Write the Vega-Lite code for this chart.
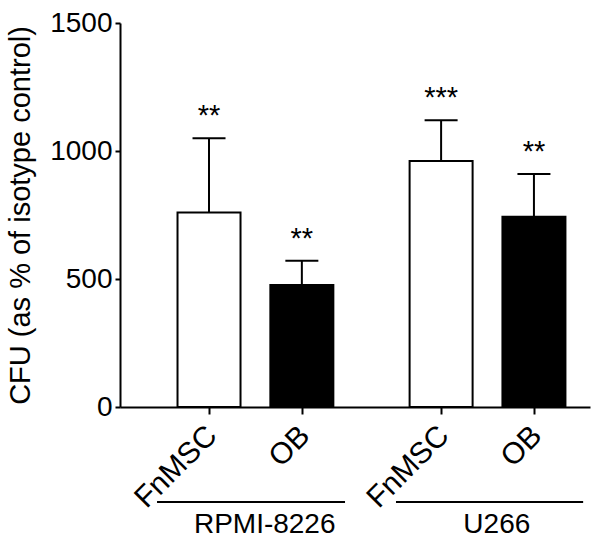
{
  "$schema": "https://vega.github.io/schema/vega-lite/v6.json",
  "width": 470,
  "height": 384,
  "autosize": "none",
  "padding": {"left": 120, "top": 23, "right": 10, "bottom": 132},
  "background": "white",
  "config": {
    "view": {"stroke": null},
    "font": "Liberation Sans",
    "axis": {"grid": false, "domainColor": "black", "tickColor": "black", "labelColor": "black", "titleColor": "black", "domainWidth": 2, "tickWidth": 2, "labelFont": "Liberation Sans", "titleFont": "Liberation Sans", "labelFontWeight": "normal", "titleFontWeight": "normal"}
  },
  "datasets": {
    "bars": [
      {"cell": "RPMI-8226", "type": "FnMSC", "slot": 1, "mean": 760, "upper": 1050, "sig": "**"},
      {"cell": "RPMI-8226", "type": "OB", "slot": 2, "mean": 477, "upper": 571, "sig": "**"},
      {"cell": "U266", "type": "FnMSC", "slot": 3.5, "mean": 961, "upper": 1120, "sig": "***"},
      {"cell": "U266", "type": "OB", "slot": 4.5, "mean": 743, "upper": 910, "sig": "**"}
    ],
    "groups": [
      {"cell": "RPMI-8226", "from": 0.44, "to": 2.465, "mid": 1.6},
      {"cell": "U266", "from": 3.014, "to": 5.03, "mid": 4.1}
    ]
  },
  "layer": [
    {
      "data": {"name": "bars"},
      "mark": {"type": "bar", "width": 63, "stroke": "black", "strokeWidth": 2},
      "encoding": {
        "x": {
          "field": "slot", "type": "quantitative",
          "scale": {"domain": [0.095, 5.05], "nice": false, "zero": false},
          "axis": {
            "title": null, "values": [1, 2, 3.5, 4.5],
            "labelExpr": "datum.value == 1 || datum.value == 3.5 ? 'FnMSC' : 'OB'",
            "labelAngle": -45, "labelFontSize": 30, "tickSize": 7, "labelPadding": 6, "labelOffset": -8, "domain": true
          }
        },
        "y": {
          "field": "mean", "type": "quantitative",
          "scale": {"domain": [0, 1500], "nice": false},
          "axis": {
            "title": "CFU (as % of isotype control)", "values": [0, 500, 1000, 1500], "format": "d",
            "labelFontSize": 28, "titleFontSize": 29, "tickSize": 5, "labelPadding": 3, "titlePadding": 14
          }
        },
        "fill": {"field": "type", "type": "nominal", "scale": {"domain": ["FnMSC", "OB"], "range": ["white", "black"]}, "legend": null}
      }
    },
    {
      "data": {"name": "bars"},
      "mark": {"type": "rule", "stroke": "black", "strokeWidth": 2},
      "encoding": {
        "x": {"field": "slot", "type": "quantitative"},
        "y": {"field": "mean", "type": "quantitative"},
        "y2": {"field": "upper"}
      }
    },
    {
      "data": {"name": "bars"},
      "mark": {"type": "tick", "orient": "horizontal", "size": 33, "thickness": 2, "color": "black", "opacity": 1},
      "encoding": {
        "x": {"field": "slot", "type": "quantitative"},
        "y": {"field": "upper", "type": "quantitative"}
      }
    },
    {
      "data": {"name": "bars"},
      "mark": {"type": "text", "fontSize": 29, "baseline": "alphabetic", "align": "center", "dy": -13, "color": "black"},
      "encoding": {
        "x": {"field": "slot", "type": "quantitative"},
        "y": {"field": "upper", "type": "quantitative"},
        "text": {"field": "sig"}
      }
    },
    {
      "data": {"name": "groups"},
      "mark": {"type": "rule", "stroke": "black", "strokeWidth": 2},
      "encoding": {
        "x": {"field": "from", "type": "quantitative"},
        "x2": {"field": "to"},
        "y": {"datum": -371}
      }
    },
    {
      "data": {"name": "groups"},
      "mark": {"type": "text", "fontSize": 28, "baseline": "middle", "align": "center", "color": "black"},
      "encoding": {
        "x": {"field": "mid", "type": "quantitative"},
        "y": {"datum": -461},
        "text": {"field": "cell"}
      }
    }
  ]
}
